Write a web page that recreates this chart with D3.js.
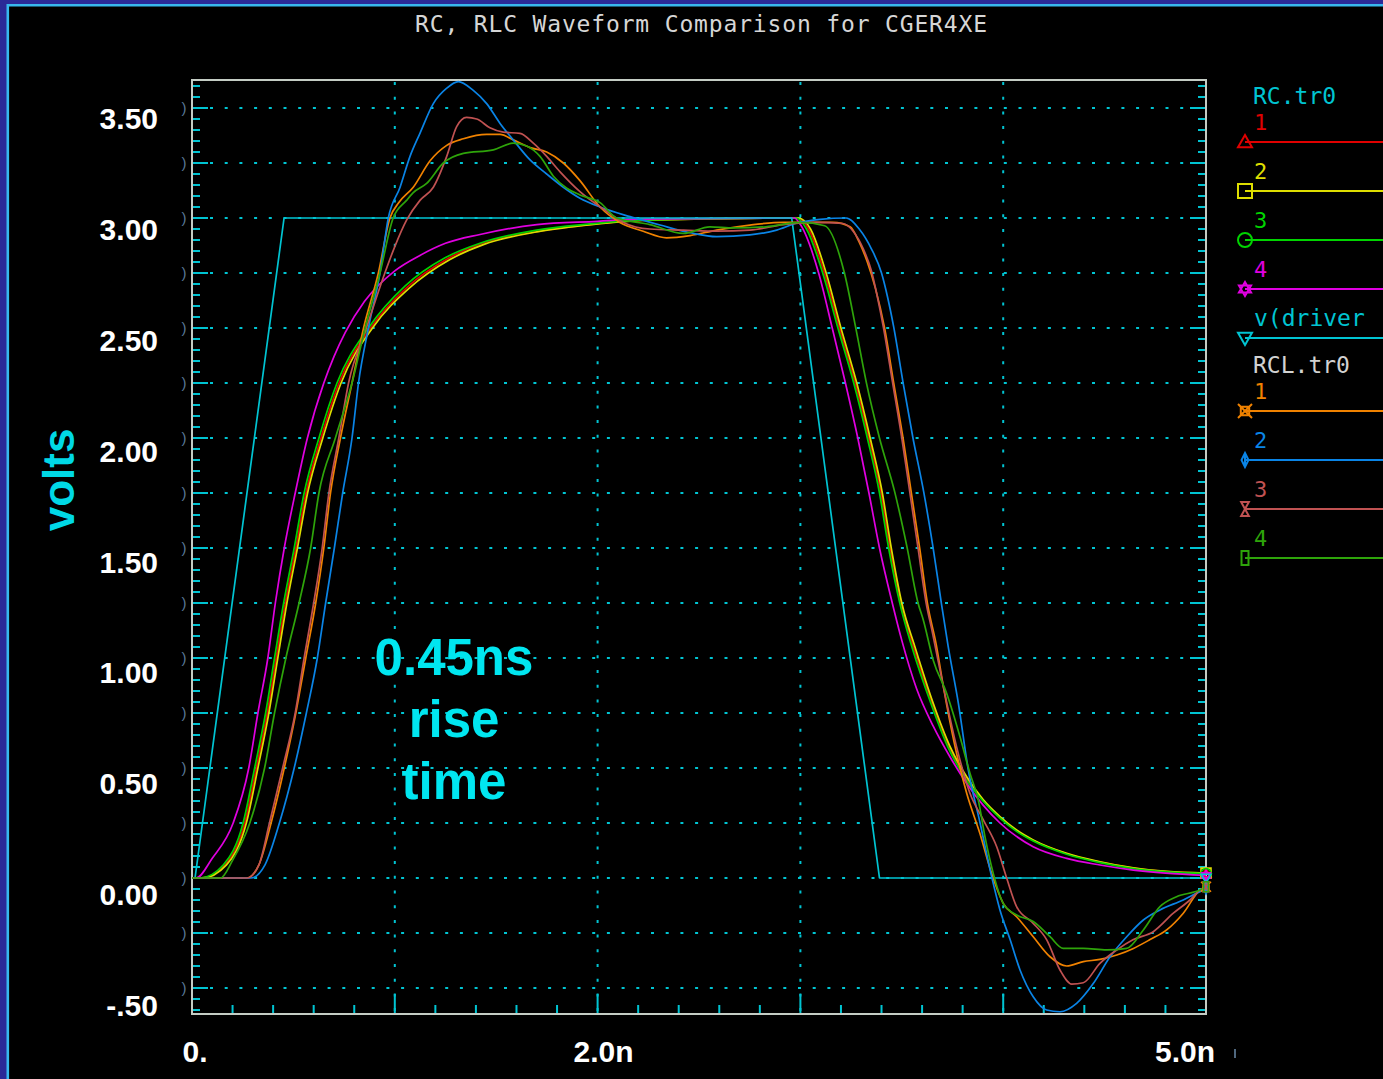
<!DOCTYPE html>
<html lang="en">
<head>
<meta charset="utf-8" />
<title>RC, RLC Waveform Comparison for CGER4XE</title>
<script src="https://d3js.org/d3.v7.min.js"></script>
<style>
  body { margin: 0; background: #000; }
  svg { display: block; }
</style>
</head>
<body>
<div id="chart"></div>
<script>
// ---- data (time in ns, voltage in V) ----
const yTickVals = [3.5, 3.0, 2.5, 2.0, 1.5, 1.0, 0.5, 0.0, -0.5];
const yTickText = ["3.50", "3.00", "2.50", "2.00", "1.50", "1.00", "0.50", "0.00", "-.50"];
const xTickVals = [0, 2, 5];
const xTickText = ["0.", "2.0n", "5.0n"];

const rcLabels = ["1", "2", "3", "4", "v(driver"];
const rclLabels = ["1", "2", "3", "4"];

// v(driver)
const drvT = [0, 0.015, 0.454, 2.957, 3.39, 5.0];
const drvV = [0, 0, 3.0, 3.0, 0, 0];

// RC.tr0 1 (red)
const rc1T = [0, 0.045, 0.162, 0.26, 0.317, 0.371, 0.415, 0.46, 0.512, 0.562, 0.636, 0.725, 0.88, 1.06, 1.26, 1.43, 1.71, 1.96, 2.22, 2.985, 3.04, 3.118, 3.192, 3.27, 3.337, 3.397, 3.441, 3.495, 3.557, 3.65, 3.734, 3.818, 3.901, 3.984, 4.066, 4.148, 4.313, 4.477, 4.642, 4.806, 5.0];
const rc1V = [0, 0, 0.06, 0.25, 0.5, 0.75, 1.0, 1.25, 1.5, 1.75, 2.0, 2.25, 2.5, 2.685, 2.815, 2.885, 2.94, 2.97, 2.99, 3.0, 2.95, 2.75, 2.5, 2.25, 2.0, 1.75, 1.5, 1.25, 1.05, 0.792, 0.594, 0.455, 0.352, 0.275, 0.215, 0.17, 0.11, 0.072, 0.045, 0.029, 0.021];

// RC.tr0 2 (yellow)
const rc2T = [0, 0.05, 0.17, 0.268, 0.325, 0.379, 0.423, 0.468, 0.52, 0.57, 0.645, 0.735, 0.89, 1.07, 1.27, 1.44, 1.72, 1.97, 2.25, 2.99, 3.05, 3.127, 3.2, 3.278, 3.344, 3.404, 3.448, 3.5, 3.565, 3.655, 3.738, 3.82, 3.902, 3.984, 4.066, 4.148, 4.313, 4.477, 4.642, 4.806, 5.0];
const rc2V = [0, 0, 0.06, 0.25, 0.5, 0.75, 1.0, 1.25, 1.5, 1.75, 2.0, 2.25, 2.5, 2.68, 2.81, 2.88, 2.94, 2.97, 2.99, 3.0, 2.95, 2.75, 2.5, 2.25, 2.0, 1.75, 1.5, 1.25, 1.05, 0.794, 0.597, 0.46, 0.355, 0.279, 0.218, 0.173, 0.112, 0.074, 0.046, 0.03, 0.022];

// RC.tr0 3 (green)
const rc3T = [0, 0.04, 0.155, 0.252, 0.309, 0.363, 0.407, 0.452, 0.504, 0.553, 0.626, 0.715, 0.87, 1.05, 1.25, 1.42, 1.7, 1.95, 2.2, 2.98, 3.03, 3.11, 3.185, 3.263, 3.33, 3.39, 3.435, 3.49, 3.55, 3.645, 3.73, 3.815, 3.9, 3.984, 4.066, 4.148, 4.313, 4.477, 4.642, 4.806, 5.0];
const rc3V = [0, 0, 0.06, 0.25, 0.5, 0.75, 1.0, 1.25, 1.5, 1.75, 2.0, 2.25, 2.5, 2.69, 2.82, 2.885, 2.945, 2.972, 2.99, 3.0, 2.95, 2.75, 2.5, 2.25, 2.0, 1.75, 1.5, 1.25, 1.05, 0.79, 0.59, 0.45, 0.35, 0.272, 0.212, 0.168, 0.108, 0.07, 0.043, 0.028, 0.02];

// RC.tr0 4 (magenta)
const rc4T = [0, 0.02, 0.1, 0.203, 0.28, 0.325, 0.374, 0.411, 0.455, 0.509, 0.569, 0.65, 0.70, 0.756, 0.85, 1.0, 1.124, 1.25, 1.42, 1.7, 2.0, 2.2, 2.97, 3.0, 3.09, 3.157, 3.222, 3.283, 3.338, 3.39, 3.453, 3.5, 3.573, 3.655, 3.738, 3.82, 3.902, 3.984, 4.148, 4.313, 4.477, 4.642, 4.8, 5.0];
const rc4V = [0, 0, 0.09, 0.25, 0.5, 0.75, 1.0, 1.25, 1.5, 1.75, 2.0, 2.25, 2.37, 2.48, 2.62, 2.76, 2.83, 2.885, 2.925, 2.97, 2.985, 2.995, 3.0, 2.97, 2.75, 2.5, 2.25, 2.0, 1.75, 1.5, 1.25, 1.08, 0.86, 0.69, 0.55, 0.43, 0.33, 0.25, 0.142, 0.089, 0.059, 0.036, 0.022, 0.012];

// RCL.tr0 1 (orange)
const rcl1T = [0, 0.27, 0.33, 0.39, 0.455, 0.512, 0.561, 0.61, 0.65, 0.683, 0.732, 0.789, 0.846, 0.919, 0.976, 1.02, 1.091, 1.174, 1.256, 1.338, 1.453, 1.519, 1.584, 1.667, 1.749, 1.831, 1.913, 2.012, 2.11, 2.225, 2.34, 2.456, 2.587, 2.751, 2.916, 3.16, 3.245, 3.29, 3.33, 3.37, 3.415, 3.46, 3.506, 3.547, 3.588, 3.626, 3.67, 3.705, 3.762, 3.82, 3.886, 3.943, 4.0, 4.066, 4.148, 4.231, 4.313, 4.395, 4.477, 4.56, 4.642, 4.724, 4.806, 4.888, 4.97, 5.0];
const rcl1V = [0, 0, 0.06, 0.25, 0.5, 0.75, 1.0, 1.25, 1.5, 1.75, 2.0, 2.25, 2.5, 2.75, 3.0, 3.07, 3.14, 3.26, 3.33, 3.36, 3.38, 3.38, 3.355, 3.32, 3.3, 3.25, 3.17, 3.05, 2.98, 2.94, 2.91, 2.92, 2.945, 2.968, 2.98, 2.98, 2.96, 2.89, 2.8, 2.68, 2.5, 2.25, 2.0, 1.75, 1.5, 1.25, 1.06, 0.87, 0.6, 0.385, 0.2, 0.02, -0.115, -0.176, -0.267, -0.358, -0.4, -0.38, -0.37, -0.35, -0.32, -0.28, -0.236, -0.16, -0.055, -0.04];

// RCL.tr0 2 (blue)
const rcl2T = [0, 0.29, 0.36, 0.431, 0.504, 0.564, 0.618, 0.659, 0.702, 0.743, 0.789, 0.821, 0.87, 0.927, 0.968, 1.026, 1.075, 1.124, 1.19, 1.256, 1.313, 1.387, 1.453, 1.519, 1.584, 1.667, 1.749, 1.831, 1.913, 2.012, 2.16, 2.308, 2.456, 2.587, 2.751, 2.883, 2.98, 3.097, 3.226, 3.29, 3.35, 3.4, 3.43, 3.46, 3.506, 3.555, 3.608, 3.654, 3.695, 3.728, 3.779, 3.828, 3.886, 3.943, 3.984, 4.034, 4.083, 4.148, 4.214, 4.28, 4.362, 4.444, 4.527, 4.609, 4.691, 4.773, 4.888, 4.97, 5.0];
const rcl2V = [0, 0, 0.06, 0.25, 0.5, 0.75, 1.0, 1.25, 1.5, 1.75, 2.0, 2.25, 2.5, 2.75, 3.0, 3.14, 3.28, 3.385, 3.52, 3.59, 3.62, 3.58, 3.52, 3.43, 3.355, 3.264, 3.2, 3.14, 3.09, 3.05, 3.006, 2.968, 2.933, 2.915, 2.923, 2.945, 2.976, 2.994, 3.0, 2.95, 2.86, 2.75, 2.64, 2.505, 2.253, 2.0, 1.755, 1.503, 1.25, 1.056, 0.794, 0.491, 0.25, 0.006, -0.145, -0.28, -0.418, -0.54, -0.6, -0.608, -0.57, -0.48, -0.358, -0.267, -0.191, -0.145, -0.1, -0.062, -0.05];

// RCL.tr0 3 (brown)
const rcl3T = [0, 0.27, 0.33, 0.382, 0.447, 0.509, 0.553, 0.6, 0.642, 0.675, 0.724, 0.772, 0.86, 0.951, 1.0, 1.058, 1.124, 1.19, 1.256, 1.305, 1.354, 1.404, 1.469, 1.535, 1.617, 1.683, 1.749, 1.815, 1.913, 2.045, 2.127, 2.258, 2.423, 2.587, 2.751, 2.916, 3.08, 3.21, 3.26, 3.31, 3.35, 3.38, 3.41, 3.455, 3.5, 3.54, 3.58, 3.62, 3.65, 3.705, 3.77, 3.836, 3.902, 3.968, 4.017, 4.066, 4.148, 4.214, 4.28, 4.338, 4.395, 4.477, 4.56, 4.642, 4.74, 4.839, 4.921, 4.97, 5.0];
const rcl3V = [0, 0, 0.06, 0.25, 0.5, 0.75, 1.0, 1.25, 1.5, 1.75, 2.0, 2.25, 2.5, 2.75, 2.87, 2.99, 3.08, 3.14, 3.28, 3.415, 3.457, 3.45, 3.41, 3.39, 3.385, 3.34, 3.28, 3.21, 3.12, 3.03, 2.98, 2.95, 2.945, 2.94, 2.945, 2.97, 2.98, 2.975, 2.94, 2.86, 2.76, 2.64, 2.5, 2.25, 2.0, 1.75, 1.5, 1.25, 1.12, 0.87, 0.597, 0.385, 0.264, 0.142, 0.0, -0.13, -0.206, -0.28, -0.418, -0.482, -0.476, -0.388, -0.327, -0.28, -0.244, -0.16, -0.1, -0.055, -0.04];

// RCL.tr0 4 (dark green)
const rcl4T = [0, 0.14, 0.2, 0.285, 0.358, 0.407, 0.463, 0.528, 0.585, 0.626, 0.707, 0.789, 0.854, 0.927, 0.992, 1.058, 1.091, 1.157, 1.239, 1.338, 1.486, 1.584, 1.65, 1.716, 1.782, 1.848, 1.913, 2.012, 2.094, 2.258, 2.423, 2.554, 2.67, 2.83, 3.0, 3.12, 3.217, 3.272, 3.325, 3.39, 3.465, 3.526, 3.58, 3.606, 3.655, 3.721, 3.787, 3.836, 3.877, 3.91, 3.951, 4.0, 4.066, 4.148, 4.231, 4.296, 4.395, 4.51, 4.609, 4.691, 4.773, 4.855, 4.97, 5.0];
const rcl4V = [0, 0, 0.08, 0.25, 0.5, 0.75, 1.0, 1.25, 1.5, 1.75, 2.0, 2.25, 2.5, 2.75, 3.0, 3.08, 3.115, 3.157, 3.25, 3.294, 3.31, 3.34, 3.327, 3.28, 3.19, 3.135, 3.105, 3.07, 3.0, 2.97, 2.93, 2.96, 2.955, 2.96, 2.98, 2.965, 2.75, 2.505, 2.253, 2.0, 1.755, 1.503, 1.25, 1.173, 0.99, 0.84, 0.642, 0.476, 0.355, 0.188, 0.021, -0.115, -0.168, -0.198, -0.267, -0.32, -0.32, -0.327, -0.32, -0.236, -0.13, -0.085, -0.055, -0.04];

// ---- layout ----
const W = 1383, H = 1079;
const cyan = "#00c4d2";
const x = d3.scaleLinear().domain([0, 5]).range([192, 1206]);
const y = d3.scaleLinear().domain([-0.5, 3.5]).range([988, 108]);
const yTop = y.invert(80), yBot = y.invert(1014);
// the big overlay labels drift a little from the grid, as on the slide
const yLab = d3.scaleLinear().domain([3.5, -0.5]).range([118, 1005]);

const svg = d3.select("#chart").append("svg")
    .attr("width", W).attr("height", H)
    .style("font-family", "'Liberation Sans', Arial, sans-serif");

svg.append("rect").attr("width", W).attr("height", H).attr("fill", "#000");

// slide border (top and left)
svg.append("rect").attr("width", W).attr("height", 4).attr("fill", "#2a2a98");
svg.append("rect").attr("width", 7).attr("height", H).attr("fill", "#2a2a98");
svg.append("path").attr("d", `M7.8,${H}V5.3H${W}`)
    .attr("fill", "none").attr("stroke", "#38b8ee").attr("stroke-width", 2.6);

// title
svg.append("text")
    .attr("x", 701).attr("y", 32)
    .attr("text-anchor", "middle")
    .attr("font-family", "'DejaVu Sans Mono', monospace")
    .attr("font-size", 23)
    .attr("textLength", 572)
    .attr("fill", "#d6d6d6")
    .text("RC, RLC Waveform Comparison for CGER4XE");

// grid
const plot = svg.append("g");
const gridY = d3.range(-2, 15).map(i => i * 0.25);
plot.selectAll(".hgrid").data(gridY).join("line")
    .attr("class", "hgrid")
    .attr("x1", x(0) + 18).attr("x2", x(5))
    .attr("y1", d => y(d)).attr("y2", d => y(d))
    .attr("stroke", cyan).attr("stroke-width", 2)
    .attr("stroke-dasharray", "3,11.7");
plot.selectAll(".vgrid").data([1, 2, 3, 4]).join("line")
    .attr("class", "vgrid")
    .attr("x1", d => x(d)).attr("x2", d => x(d))
    .attr("y1", 82).attr("y2", 1012)
    .attr("stroke", cyan).attr("stroke-width", 2)
    .attr("stroke-dasharray", "3,11.7");

// axis ticks (inward), minor every 0.05 V / 0.2 ns
const yMinor = d3.range(-12, 73).map(i => +(i * 0.05).toFixed(2));
const xMinor = d3.range(1, 25).map(i => +(i * 0.2).toFixed(1));
const isMajY = d => Math.abs(d / 0.25 - Math.round(d / 0.25)) < 1e-6;
const isMajX = d => Math.abs(d - Math.round(d)) < 1e-6;

plot.selectAll(".ltick").data(yMinor).join("line")
    .attr("x1", x(0)).attr("x2", d => x(0) + (isMajY(d) ? 16 : 8))
    .attr("y1", d => y(d)).attr("y2", d => y(d))
    .attr("stroke", cyan).attr("stroke-width", 2);
plot.selectAll(".rtick").data(yMinor).join("line")
    .attr("x1", x(5)).attr("x2", d => x(5) - (isMajY(d) ? 16 : 8))
    .attr("y1", d => y(d)).attr("y2", d => y(d))
    .attr("stroke", cyan).attr("stroke-width", 2);
plot.selectAll(".btick").data(xMinor).join("line")
    .attr("x1", d => x(d)).attr("x2", d => x(d))
    .attr("y1", 1014).attr("y2", d => 1014 - (isMajX(d) ? 20 : 9))
    .attr("stroke", cyan).attr("stroke-width", 2);

// little bracket marks left of the axis
svg.selectAll(".brk").data(gridY).join("text")
    .attr("x", 184).attr("y", d => y(d) + 5)
    .attr("text-anchor", "middle")
    .attr("font-size", 15)
    .attr("fill", "#5a7896")
    .text(")");

// frame
svg.append("rect")
    .attr("x", x(0)).attr("y", y(yTop))
    .attr("width", x(5) - x(0)).attr("height", y(yBot) - y(yTop))
    .attr("fill", "none").attr("stroke", "#c4ccc4").attr("stroke-width", 2);

// ---- waveforms ----
const zip = (t, v) => t.map((d, i) => [d, v[i]]).filter(d => d[1] !== undefined);

const markers = {
    triUp: r => `M0,${-r}L${r},${r * 0.75}L${-r},${r * 0.75}Z`,
    square: r => `M${-r},${-r}H${r}V${r}H${-r}Z`,
    circle: r => `M${r},0A${r},${r} 0 1,1 ${-r},0A${r},${r} 0 1,1 ${r},0Z`,
    star: r => `M0,${-r}L${r * 0.87},${r * 0.5}L${-r * 0.87},${r * 0.5}ZM0,${r}L${r * 0.87},${-r * 0.5}L${-r * 0.87},${-r * 0.5}Z`,
    triDown: r => `M0,${r}L${r},${-r * 0.75}L${-r},${-r * 0.75}Z`,
    boxX: r => `M${-r * 0.6},${-r * 0.6}H${r * 0.6}V${r * 0.6}H${-r * 0.6}ZM${-r},${-r}L${r},${r}M${r},${-r}L${-r},${r}`,
    diamond: r => `M0,${-r}L${r * 0.5},0L0,${r}L${-r * 0.5},0ZM0,${-r}V${r}`,
    hourglass: r => `M${-r * 0.55},${-r}H${r * 0.55}L${-r * 0.55},${r}H${r * 0.55}Z`,
    bar: r => `M${-r * 0.5},${-r}H${r * 0.5}V${r}H${-r * 0.5}Z`
};

const rcSeries = [
    { data: zip(rc1T, rc1V), color: "#e00000", mk: "triUp" },
    { data: zip(rc2T, rc2V), color: "#dede00", mk: "square" },
    { data: zip(rc3T, rc3V), color: "#00d400", mk: "circle" },
    { data: zip(rc4T, rc4V), color: "#e000e0", mk: "star" },
    { data: zip(drvT, drvV), color: cyan, mk: "triDown", linear: true }
];
const rclSeries = [
    { data: zip(rcl1T, rcl1V), color: "#f08200", mk: "boxX" },
    { data: zip(rcl2T, rcl2V), color: "#0a84e6", mk: "diamond" },
    { data: zip(rcl3T, rcl3V), color: "#c05252", mk: "hourglass" },
    { data: zip(rcl4T, rcl4V), color: "#2ea40a", mk: "bar" }
];
const allSeries = rcSeries.concat(rclSeries);

const smooth = d3.line().x(d => x(d[0])).y(d => y(d[1])).curve(d3.curveMonotoneX);
const straight = d3.line().x(d => x(d[0])).y(d => y(d[1]));

svg.append("g").selectAll("path").data(allSeries).join("path")
    .attr("d", s => (s.linear ? straight : smooth)(s.data))
    .attr("fill", "none")
    .attr("stroke", s => s.color)
    .attr("stroke-width", 1.7)
    .attr("stroke-linejoin", "round");

// end markers piled at the right edge
svg.append("g").selectAll("path").data(allSeries).join("path")
    .attr("transform", s => {
        const p = s.data[s.data.length - 1];
        return `translate(${x(p[0])},${y(p[1])})`;
    })
    .attr("d", s => markers[s.mk](5))
    .attr("fill", "none")
    .attr("stroke", s => s.color)
    .attr("stroke-width", 1.6);

// ---- legend ----
const legend = svg.append("g").attr("font-family", "'DejaVu Sans Mono', monospace");
const lgX = 1245;

function legendBlock(title, titleColor, titleY, series, labels, firstY) {
    legend.append("text").attr("x", 1253).attr("y", titleY)
        .attr("font-size", 23)
        .attr("fill", titleColor).text(title);
    const rows = legend.selectAll(null).data(series).join("g")
        .attr("transform", (s, i) => `translate(0,${firstY + 49 * i})`);
    rows.append("line")
        .attr("x1", lgX).attr("x2", W)
        .attr("stroke", s => s.color).attr("stroke-width", 2);
    rows.append("path")
        .attr("transform", `translate(${lgX},0)`)
        .attr("d", s => markers[s.mk](7))
        .attr("fill", "none").attr("stroke", s => s.color).attr("stroke-width", 2);
    rows.append("text")
        .attr("x", 1254).attr("y", -12)
        .attr("font-size", (s, i) => labels[i].length > 1 ? 23 : 22)
        .attr("fill", s => s.color)
        .text((s, i) => labels[i]);
}
legendBlock("RC.tr0", cyan, 104, rcSeries, rcLabels, 142);
legendBlock("RCL.tr0", "#d2d2d2", 373, rclSeries, rclLabels, 411);

// ---- axis labels ----
svg.selectAll(".ylab").data(yTickVals).join("text")
    .attr("x", 158).attr("y", d => yLab(d) + 11)
    .attr("text-anchor", "end")
    .attr("font-weight", "bold").attr("font-size", 30)
    .attr("fill", "#fff")
    .text((d, i) => yTickText[i]);

svg.selectAll(".xlab").data(xTickVals).join("text")
    .attr("x", (d, i) => i === xTickVals.length - 1 ? x(d) + 9 : x(d) + (d === 0 ? 3 : 6))
    .attr("y", 1062)
    .attr("text-anchor", (d, i) => i === xTickVals.length - 1 ? "end" : "middle")
    .attr("font-weight", "bold").attr("font-size", 30)
    .attr("fill", "#fff")
    .text((d, i) => xTickText[i]);

svg.append("line").attr("x1", 1235).attr("x2", 1235).attr("y1", 1049).attr("y2", 1058)
    .attr("stroke", "#6a8aa8").attr("stroke-width", 1.5);

svg.append("text")
    .attr("transform", "translate(74,480) rotate(-90)")
    .attr("text-anchor", "middle")
    .attr("font-weight", "bold").attr("font-size", 44)
    .attr("fill", "#00d8e6")
    .text("volts");

const note = svg.append("text")
    .attr("text-anchor", "middle")
    .attr("font-weight", "bold").attr("font-size", 51)
    .attr("fill", "#00e6f0");
["0.45ns", "rise", "time"].forEach((t, i) => {
    note.append("tspan").attr("x", 454).attr("y", 675 + 62 * i).text(t);
});
</script>
</body>
</html>
